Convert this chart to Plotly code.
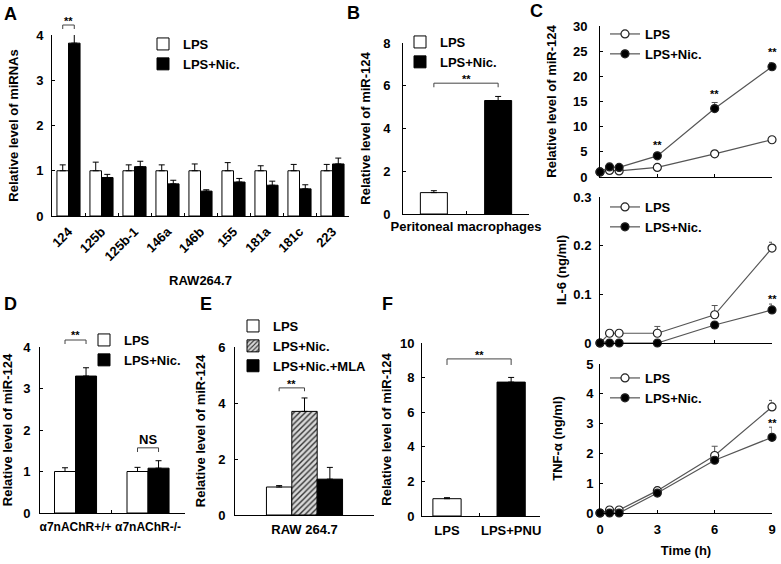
import plotly.graph_objects as go

# ---------------- data ----------------
mirnas = ["124", "125b", "125b-1", "146a", "146b", "155", "181a", "181c", "223"]
a_lps = [1, 1, 1, 1, 1, 1, 1, 1, 1]
a_lps_err = [0.13, 0.19, 0.13, 0.13, 0.15, 0.18, 0.11, 0.14, 0.14]
a_nic = [3.82, 0.85, 1.09, 0.71, 0.55, 0.75, 0.68, 0.60, 1.15]
a_nic_err = [0.20, 0.07, 0.12, 0.08, 0.03, 0.08, 0.09, 0.09, 0.13]

b_groups = ["LPS", "LPS+Nic."]
b_values = [1.0, 5.31]
b_err = [0.09, 0.19]

time_h = [0, 0.5, 1, 3, 6, 9]
c_mir_lps = [1.0, 1.3, 1.2, 1.9, 4.6, 7.4]
c_mir_lps_err = [0, 0, 0, 0.2, 0.4, 0.4]
c_mir_nic = [1.0, 2.0, 1.9, 4.2, 13.6, 21.9]
c_mir_nic_err = [0, 0, 0, 0.2, 1.2, 0.8]
c_il6_lps = [0, 0.02, 0.02, 0.02, 0.058, 0.195]
c_il6_lps_err = [0, 0, 0, 0.014, 0.019, 0.012]
c_il6_nic = [0, 0, 0, 0, 0.037, 0.068]
c_il6_nic_err = [0, 0, 0, 0, 0.003, 0.012]
c_tnf_lps = [0, 0.1, 0.1, 0.75, 1.93, 3.56]
c_tnf_lps_err = [0, 0, 0, 0.03, 0.31, 0.22]
c_tnf_nic = [0, 0, 0, 0.67, 1.77, 2.54]
c_tnf_nic_err = [0, 0, 0, 0.03, 0.05, 0.34]
c_time_ticks = [0, 3, 6, 9]

d_groups = ["α7nAChR+/+", "α7nAChR-/-"]
d_lps = [1.0, 1.0]
d_lps_err = [0.09, 0.10]
d_nic = [3.30, 1.08]
d_nic_err = [0.20, 0.18]

e_group = ["RAW 264.7"]
e_lps = [1.0]
e_lps_err = [0.05]
e_nic = [3.70]
e_nic_err = [0.48]
e_mla = [1.28]
e_mla_err = [0.42]

f_groups = ["LPS", "LPS+PNU"]
f_values = [1.0, 7.74]
f_err = [0.06, 0.27]

series = ["LPS", "LPS+Nic.", "LPS+Nic.+MLA"]
panel_letters = ["A", "B", "C", "D", "E", "F"]

# ---------------- helpers ----------------
W, H = 781, 564
FAM = "Arial, 'Liberation Sans', sans-serif"


def fx(p):
    return p / W


def fy(p):
    return 1 - p / H


def font(size=13):
    return dict(family=FAM, size=size, color="black", weight="bold")


fig = go.Figure()


def add_bar(x, y, err, name, fill, xa, ya, offset, width, legend=None, showlegend=True, pattern=None):
    marker = dict(color=fill, line=dict(color="black", width=1))
    if pattern is not None:
        marker["pattern"] = pattern
    fig.add_trace(go.Bar(
        x=x, y=y, name=name, xaxis=xa, yaxis=ya, offset=offset, width=width,
        marker=marker,
        error_y=dict(type="data", symmetric=False, array=err, arrayminus=[0] * len(err),
                     color="black", thickness=1, width=3),
        legend=legend, showlegend=showlegend, cliponaxis=False))


def add_line(x, y, err, name, filled, xa, ya, legend):
    fig.add_trace(go.Scatter(
        x=x, y=y, name=name, xaxis=xa, yaxis=ya, mode="lines+markers",
        line=dict(color="#555555", width=1.2),
        marker=dict(symbol="circle", size=8, color="black" if filled else "white",
                    line=dict(color="#222222", width=1.2)),
        error_y=dict(type="data", symmetric=False, array=err, arrayminus=[0] * len(err),
                     color="#555555", thickness=1, width=3),
        legend=legend, cliponaxis=False))


# ---- A ----
add_bar(mirnas, a_lps, a_lps_err, series[0], "white", "x", "y", -0.35, 0.35, "legend")
add_bar(mirnas, a_nic, a_nic_err, series[1], "black", "x", "y", 0.0, 0.35, "legend")
# ---- B ----
add_bar(b_groups[:1], b_values[:1], b_err[:1], series[0], "white", "x2", "y2", -0.21, 0.42, "legend2")
add_bar(b_groups[1:], b_values[1:], b_err[1:], series[1], "black", "x2", "y2", -0.21, 0.42, "legend2")
# ---- C ----
add_line(time_h, c_mir_lps, c_mir_lps_err, series[0], False, "x3", "y3", "legend3")
add_line(time_h, c_mir_nic, c_mir_nic_err, series[1], True, "x3", "y3", "legend3")
add_line(time_h, c_il6_lps, c_il6_lps_err, series[0], False, "x4", "y4", "legend4")
add_line(time_h, c_il6_nic, c_il6_nic_err, series[1], True, "x4", "y4", "legend4")
add_line(time_h, c_tnf_lps, c_tnf_lps_err, series[0], False, "x5", "y5", "legend5")
add_line(time_h, c_tnf_nic, c_tnf_nic_err, series[1], True, "x5", "y5", "legend5")
# ---- D ----
add_bar(d_groups, d_lps, d_lps_err, series[0], "white", "x6", "y6", -0.29, 0.29, "legend6")
add_bar(d_groups, d_nic, d_nic_err, series[1], "black", "x6", "y6", 0.0, 0.29, "legend6")
# ---- E ----
EW = 0.1825
add_bar(e_group, e_lps, e_lps_err, series[0], "white", "x7", "y7", -1.5 * EW, EW, "legend7")
add_bar(e_group, e_nic, e_nic_err, series[1], "#cfcfcf", "x7", "y7", -0.5 * EW, EW, "legend7",
        pattern=dict(shape="/", fgcolor="#333333", bgcolor="#d8d8d8", size=4, solidity=0.35))
add_bar(e_group, e_mla, e_mla_err, series[2], "black", "x7", "y7", 0.5 * EW, EW, "legend7")
# ---- F ----
add_bar(f_groups[:1], f_values[:1], f_err[:1], f_groups[0], "white", "x8", "y8", -0.22, 0.44, showlegend=False)
add_bar(f_groups[1:], f_values[1:], f_err[1:], f_groups[1], "black", "x8", "y8", -0.22, 0.44, showlegend=False)


# ---------------- axes ----------------
def xax(dom, anchor, **kw):
    d = dict(domain=[fx(dom[0]), fx(dom[1])], anchor=anchor, showline=True, linecolor="black",
             linewidth=1, showgrid=False, zeroline=False, ticks="inside", ticklen=3,
             tickcolor="black", tickfont=font(13), automargin=False, fixedrange=True)
    d.update(kw)
    return d


def yax(dom, anchor, title, standoff, **kw):
    d = dict(domain=[fy(dom[0]), fy(dom[1])], anchor=anchor, showline=True, linecolor="black",
             linewidth=1, showgrid=False, zeroline=False, ticks="inside", ticklen=3,
             tickcolor="black", tickfont=font(13), automargin=False, fixedrange=True,
             title=dict(text=title, font=font(13), standoff=standoff))
    d.update(kw)
    return d


layout_axes = dict(
    xaxis=xax((52, 349), "y", type="category", range=[-0.5, 8.5], tickson="boundaries",
              tickangle=-45, ticklabelstandoff=2,
              title=dict(text="RAW264.7", font=font(13), standoff=12)),
    yaxis=yax((216, 35), "x", "Relative level of miRNAs", 14, range=[0, 4], dtick=1, ticklabelstandoff=5),
    xaxis2=xax((403, 529), "y2", type="category", range=[-0.48, 1.48], tickson="boundaries",
               showticklabels=False, title=dict(text="Peritoneal macrophages", font=font(13), standoff=7)),
    yaxis2=yax((214, 43), "x2", "Relative level of miR-124", 9, range=[0, 8], dtick=2, ticklabelstandoff=9),
    xaxis3=xax((600, 772), "y3", range=[0, 9], tickvals=c_time_ticks, showticklabels=False),
    yaxis3=yax((177, 26), "x3", "Relative level of miR-124", 13, range=[0, 30], dtick=5, ticklabelstandoff=9),
    xaxis4=xax((600, 772), "y4", range=[0, 9], tickvals=c_time_ticks, showticklabels=False),
    yaxis4=yax((343, 197), "x4", "IL-6 (ng/ml)", 3, range=[0, 0.3], tickvals=[0, 0.1, 0.2, 0.3],
               ticktext=["0", "0.1", "0.2", "0.3"], ticklabelstandoff=5),
    xaxis5=xax((600, 772), "y5", range=[0, 9], tickvals=c_time_ticks, ticklabelstandoff=4,
               title=dict(text="Time (h)", font=font(13), standoff=10)),
    yaxis5=yax((513, 364), "x5", "TNF-α (ng/ml)", 20, range=[0, 5], dtick=1, ticklabelstandoff=3),
    xaxis6=xax((40, 185), "y6", type="category", range=[-0.49, 1.51], tickson="boundaries",
               tickangle=0, ticklabelstandoff=3, tickfont=font(12)),
    yaxis6=yax((513, 347), "x6", "Relative level of miR-124", 9, range=[0, 4], dtick=1, ticklabelstandoff=6),
    xaxis7=xax((235, 374), "y7", type="category", range=[-0.5, 0.5], tickson="boundaries",
               tickangle=0, ticklabelstandoff=2),
    yaxis7=yax((515, 347), "x7", "Relative level of miR-124", 9, range=[0, 6], dtick=2, ticklabelstandoff=6),
    xaxis8=xax((422, 540), "y8", type="category", range=[-0.39, 1.45], tickson="boundaries",
               tickangle=0, ticklabelstandoff=2),
    yaxis8=yax((516, 343), "x8", "Relative level of miR-124", 5, range=[0, 10], dtick=2, ticklabelstandoff=4),
)


# ---------------- legends ----------------
def leg(x, y):
    return dict(x=fx(x), y=fy(y), xanchor="left", yanchor="top", bgcolor="rgba(0,0,0,0)",
                borderwidth=0, font=font(13), itemwidth=30, tracegroupgap=0)


legends = dict(
    legend=leg(143, 29),
    legend2=leg(400, 27),
    legend3=leg(605, 19),
    legend4=leg(605, 192),
    legend5=leg(605, 363),
    legend6=leg(84, 325),
    legend7=leg(233, 311),
)

# ---------------- annotations & brackets ----------------
annotations = []
shapes = []

letter_pos = [(2, 2), (345, 1), (528, -1), (2, 292), (198, 292), (380, 292)]
for letter, (lx, ly) in zip(panel_letters, letter_pos):
    annotations.append(dict(text=letter, x=fx(lx), y=fy(ly), xref="paper", yref="paper",
                            xanchor="left", yanchor="top", showarrow=False, font=font(18)))


def bracket(xa, ya, x0, x1, ytop, ybot):
    for (a, b, c, d) in [(x0, ytop, x1, ytop), (x0, ytop, x0, ybot), (x1, ytop, x1, ybot)]:
        shapes.append(dict(type="line", xref=xa, yref=ya, x0=a, y0=b, x1=c, y1=d,
                           line=dict(color="#444444", width=1)))


def label(text, xa, ya, x, y, size=11):
    annotations.append(dict(text=text, xref=xa, yref=ya, x=x, y=y, showarrow=False,
                            xanchor="center", yanchor="middle", font=font(size)))


# A
bracket("x", "paper", -0.175, 0.175, fy(25), fy(29))
label("**", "x", "paper", 0, fy(21))
# B
bracket("x2", "y2", 0, 1, 6.12, 5.93)
label("**", "x2", "y2", 0.5, 6.32)
# C
label("**", "x3", "y3", 3, 6.4)
label("**", "x3", "y3", 6, 16.5)
label("**", "x3", "y3", 9, 24.8)
label("**", "x4", "y4", 9, 0.090)
label("**", "x5", "y5", 9, 3.02)
# D
bracket("x6", "paper", -0.145, 0.145, fy(340), fy(344))
label("**", "x6", "paper", 0, fy(335))
bracket("x6", "y6", 0.855, 1.145, 1.57, 1.47)
label("NS", "x6", "y6", 1, 1.78, 13)
# E
bracket("x7", "y7", -EW, 0, 4.54, 4.42)
label("**", "x7", "y7", -EW / 2, 4.69)
# F
bracket("x8", "y8", 0, 1, 9.08, 8.73)
label("**", "x8", "y8", 0.5, 9.31)

fig.update_layout(
    template="none",
    width=W, height=H,
    margin=dict(l=0, r=0, t=0, b=0),
    paper_bgcolor="white", plot_bgcolor="white",
    barmode="overlay",
    font=font(13),
    annotations=annotations,
    shapes=shapes,
    **layout_axes,
    **legends,
)

fig.write_html("out.html", config={"displayModeBar": False},
               post_script="document.body.style.margin='0';document.body.style.overflow='hidden';")
